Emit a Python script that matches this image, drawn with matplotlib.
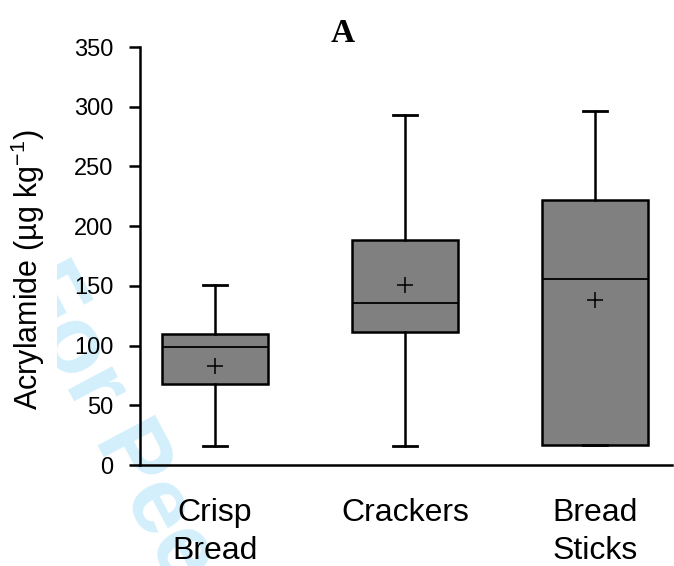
import matplotlib
matplotlib.use('Agg')
import matplotlib.pyplot as plt

categories = ['Crisp\nBread', 'Crackers', 'Bread\nSticks']
whisker_low = [16, 16, 17]
q1 = [68, 111, 17]
median = [99, 136, 156]
q3 = [110, 188, 222]
whisker_high = [151, 293, 296]
means = [83, 151, 138]
yticks = [0, 50, 100, 150, 200, 250, 300, 350]

plt.rcParams['font.family'] = ['Liberation Sans', 'DejaVu Sans']
plt.rcParams['mathtext.default'] = 'regular'

fig = plt.figure(figsize=(6.74, 5.66), dpi=100)

# faint "For Peer Review" watermark behind the chart, clipped on the left
wm = fig.add_axes([57 / 674, 0, 617 / 674, 1], zorder=0)
wm.set_axis_off()
wm.text(10 / 674, 1 - 282 / 566, 'For Peer Review', transform=fig.transFigure,
        rotation=-62, rotation_mode='anchor', ha='left', va='baseline',
        fontsize=68, fontweight='bold', color='#d2effb', clip_on=True)

ax = fig.add_axes([140 / 674, 101 / 566, 532 / 674, 418 / 566], zorder=1)
ax.patch.set_visible(False)

stats = []
for i in range(len(categories)):
    stats.append({'whislo': whisker_low[i], 'q1': q1[i], 'med': median[i],
                  'q3': q3[i], 'whishi': whisker_high[i], 'mean': means[i],
                  'fliers': []})

pos = list(range(1, len(categories) + 1))
ax.bxp(stats, positions=pos, widths=0.56, patch_artist=True, showmeans=True,
       showfliers=False,
       boxprops=dict(facecolor='#808080', edgecolor='black', linewidth=1.8),
       medianprops=dict(color='black', linewidth=1.3),
       whiskerprops=dict(color='black', linewidth=1.8),
       capprops=dict(color='black', linewidth=2.0),
       capwidths=0.13,
       meanprops=dict(marker='+', markeredgecolor='black', markersize=11,
                      markeredgewidth=1.1))

ax.set_xlim(0.605, 3.405)
ax.set_ylim(0, 350)
ax.set_yticks(yticks)
ax.set_xticks(pos)
ax.set_xticklabels(categories, fontsize=23, linespacing=1.35)
ax.tick_params(axis='x', length=0, pad=24)
ax.tick_params(axis='y', length=8, width=1.8, pad=11, labelsize=17)

for s in ['top', 'right']:
    ax.spines[s].set_visible(False)
for s in ['left', 'bottom']:
    ax.spines[s].set_linewidth(1.8)

ax.set_ylabel('Acrylamide (µg kg$^{-1}$)', fontsize=22)
ax.yaxis.set_label_coords(-0.175, 0.466)

fig.text(343 / 674, 1 - 42 / 566, 'A', ha='center', va='baseline',
         fontsize=24, fontweight='bold', family='Liberation Serif')

fig.savefig('out.png', dpi=100)
